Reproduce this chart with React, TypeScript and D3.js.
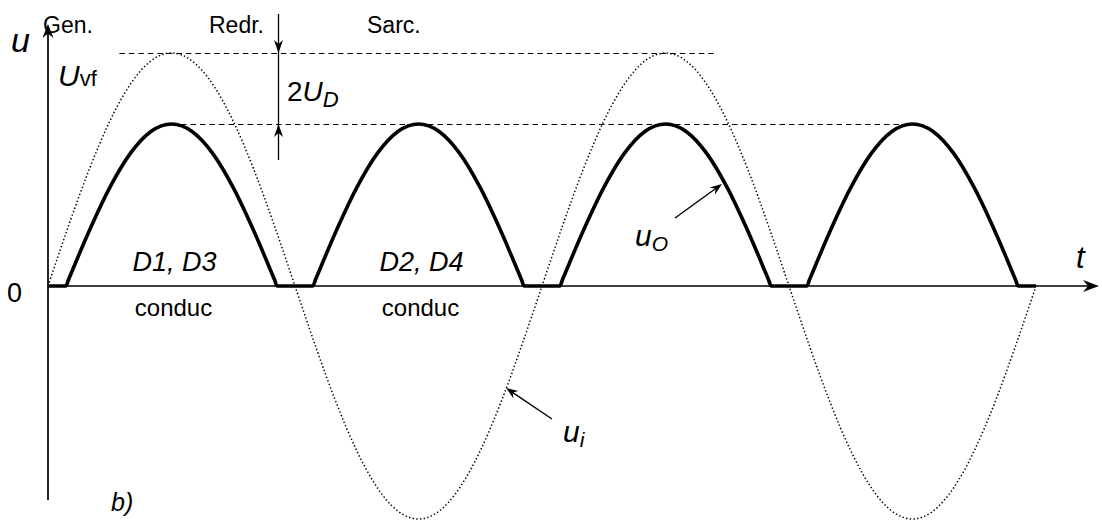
import React from "react";
import * as d3 from "d3";

// ---- data (time in electrical degrees, voltage in relative units) ----
const uiT = [0, 15, 30, 45, 60, 75, 90, 105, 120, 135, 150, 165, 180, 195, 210, 225, 240, 255, 270, 285, 300, 315, 330, 345, 360,
  375, 390, 405, 420, 435, 450, 465, 480, 495, 510, 525, 540, 555, 570, 585, 600, 615, 630, 645, 660, 675, 690, 705, 720];
const uiV = [0, 2.59, 5, 7.07, 8.66, 9.66, 10, 9.66, 8.66, 7.07, 5, 2.59, 0, -2.59, -5, -7.07, -8.66, -9.66, -10, -9.66, -8.66, -7.07, -5, -2.59, 0,
  2.59, 5, 7.07, 8.66, 9.66, 10, 9.66, 8.66, 7.07, 5, 2.59, 0, -2.59, -5, -7.07, -8.66, -9.66, -10, -9.66, -8.66, -7.07, -5, -2.59, 0];

const uoT = [0, 13, 15, 30, 45, 60, 75, 90, 105, 120, 135, 150, 165, 167,
  193, 195, 210, 225, 240, 255, 270, 285, 300, 315, 330, 345, 347,
  373, 375, 390, 405, 420, 435, 450, 465, 480, 495, 510, 525, 527,
  553, 555, 570, 585, 600, 615, 630, 645, 660, 675, 690, 705, 707, 720];
const uoV = [0, 0, 0.28, 2.36, 4.22, 5.69, 6.63, 6.95, 6.63, 5.69, 4.22, 2.36, 0.28, 0,
  0, 0.28, 2.36, 4.22, 5.69, 6.63, 6.95, 6.63, 5.69, 4.22, 2.36, 0.28, 0,
  0, 0.28, 2.36, 4.22, 5.69, 6.63, 6.95, 6.63, 5.69, 4.22, 2.36, 0.28, 0,
  0, 0.28, 2.36, 4.22, 5.69, 6.63, 6.95, 6.63, 5.69, 4.22, 2.36, 0.28, 0, 0];

const uPeakIn = 10;    // U_vf level
const uPeakOut = 6.95; // rectified peak
const stateLabels = ["Gen.", "Redr.", "Sarc."];
const diodeLabels = ["D1, D3", "D2, D4"];
const diodeCenters = [90, 270];

const W = 1102;
const H = 520;
const FONT = "'Liberation Sans', Arial, Helvetica, sans-serif";

const x = d3.scaleLinear().domain([0, 720]).range([48, 1036]);
const y = d3.scaleLinear().domain([-10, 10]).range([519, 53]);

function arrowHead(tx: number, ty: number, angle: number, len = 13, half = 5, notch = 4) {
  const c = Math.cos(angle), s = Math.sin(angle);
  const bx = tx - c * len, by = ty - s * len;
  const nx = tx - c * (len - notch), ny = ty - s * (len - notch);
  const px = -s, py = c;
  return `M${tx},${ty}L${bx + px * half},${by + py * half}L${nx},${ny}L${bx - px * half},${by - py * half}Z`;
}

function pointerArrow(x1: number, y1: number, x2: number, y2: number) {
  const a = Math.atan2(y2 - y1, x2 - x1);
  return (
    <g>
      <line x1={x1} y1={y1} x2={x2 - Math.cos(a) * 6} y2={y2 - Math.sin(a) * 6} stroke="#000" strokeWidth={1.4} />
      <path d={arrowHead(x2, y2, a, 12, 4.5, 4)} fill="#000" />
    </g>
  );
}

export default function App() {
  const lineIn = d3.line<number>().x((_, i) => x(uiT[i])).y((d) => y(d)).curve(d3.curveNatural);
  const lineOut = d3.line<number>().x((_, i) => x(uoT[i])).y((d) => y(d)).curve(d3.curveMonotoneX);

  const y0 = y(0);
  const yTop = y(uPeakIn);
  const yOut = y(uPeakOut);
  const dimX = Math.round(x(167.5)) + 0.5;

  return (
    <svg width={W} height={H} style={{ position: "absolute", left: 0, top: 0, background: "#fff" }} fontFamily={FONT}>
      <rect width={W} height={H} fill="#fff" />
      {/* dashed reference lines */}
      <line x1={x(52)} x2={x(485)} y1={Math.round(yTop) + 0.5} y2={Math.round(yTop) + 0.5} stroke="#000" strokeWidth={1.1} strokeDasharray="5.5 4" />
      <line x1={x(90)} x2={x(625)} y1={Math.round(yOut) + 0.5} y2={Math.round(yOut) + 0.5} stroke="#000" strokeWidth={1.1} strokeDasharray="5.5 4" />

      {/* input sine, dotted */}
      <path d={lineIn(uiV) || ""} fill="none" stroke="#000" strokeWidth={1.5} strokeDasharray="1.4 2.3" />

      {/* axes */}
      <line x1={x(0)} x2={1090} y1={y0} y2={y0} stroke="#000" strokeWidth={1.5} />
      <path d={arrowHead(1099, y0, 0, 16, 6, 5)} fill="#000" />
      <line x1={x(0)} x2={x(0)} y1={500} y2={32} stroke="#000" strokeWidth={1.7} />
      <path d={arrowHead(x(0), 24, -Math.PI / 2, 14, 5.5, 4.5)} fill="#000" />

      {/* rectified output, bold */}
      <path d={lineOut(uoV) || ""} fill="none" stroke="#000" strokeWidth={3.6} strokeLinejoin="round" />

      {/* 2U_D dimension */}
      <line x1={dimX} x2={dimX} y1={14} y2={160} stroke="#000" strokeWidth={1.3} />
      <path d={arrowHead(dimX, yTop, Math.PI / 2, 13, 4.5, 4)} fill="#000" />
      <path d={arrowHead(dimX, yOut, -Math.PI / 2, 13, 4.5, 4)} fill="#000" />

      {/* labels */}
      <text x={11} y={52} fontSize={34} fontStyle="italic">u</text>
      <text x={43} y={33} fontSize={23}>{stateLabels[0]}</text>
      <text x={209} y={33} fontSize={23}>{stateLabels[1]}</text>
      <text x={367} y={33} fontSize={23}>{stateLabels[2]}</text>

      <text x={58} y={86} fontSize={30} fontStyle="italic">U<tspan fontSize={22} fontStyle="normal" dx={0}>vf</tspan></text>
      <text x={287} y={101} fontSize={28}>2<tspan fontStyle="italic">U</tspan><tspan fontStyle="italic" fontSize={22} dy={6}>D</tspan></text>

      {diodeLabels.map((lab, i) => (
        <g key={lab}>
          <text x={x(diodeCenters[i]) + 3} y={271} fontSize={27} fontStyle="italic" textAnchor="middle">{lab}</text>
          <text x={x(diodeCenters[i]) + 2} y={316} fontSize={24} textAnchor="middle">conduc</text>
        </g>
      ))}

      <text x={7} y={302} fontSize={27}>0</text>
      <text x={1076} y={268} fontSize={31} fontStyle="italic">t</text>

      <text x={635} y={246} fontSize={30} fontStyle="italic">u<tspan fontSize={21} dy={5}>O</tspan></text>
      {pointerArrow(675, 218, 722, 184)}

      <text x={563} y={442} fontSize={30} fontStyle="italic">u<tspan fontSize={21} dy={5}>i</tspan></text>
      {pointerArrow(552, 419, 506, 388)}

      <text x={111} y={511} fontSize={25} fontStyle="italic">b)</text>
    </svg>
  );
}
